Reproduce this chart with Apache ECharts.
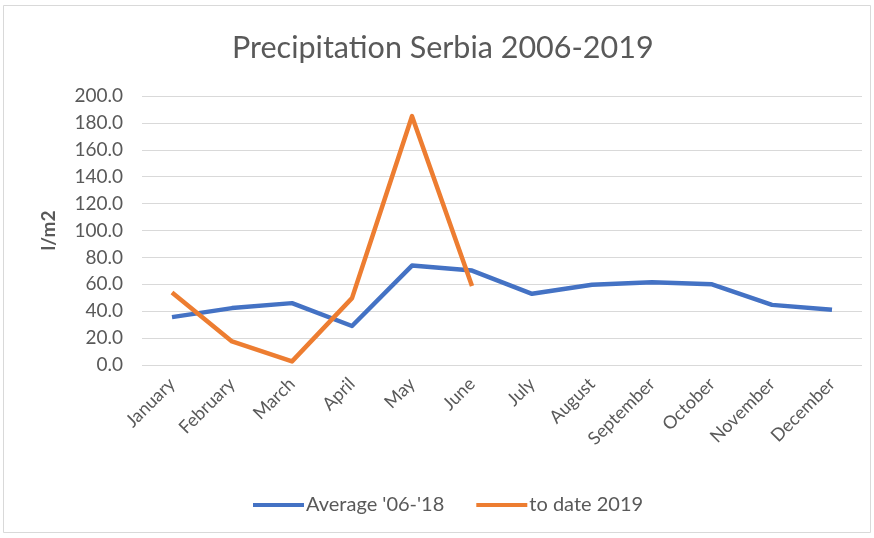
<!DOCTYPE html>
<html>
<head>
<meta charset="utf-8">
<script src="https://cdn.jsdelivr.net/npm/echarts@6/dist/echarts.min.js"></script>
<style>html,body{margin:0;padding:0;background:#fff}#c{width:874px;height:538px}</style>
</head>
<body>
<div id="c"></div>
<script>
const months = ['January','February','March','April','May','June','July','August','September','October','November','December'];
const average0618 = [35.6, 42.3, 46.0, 29.0, 73.9, 70.2, 52.9, 59.6, 61.6, 60.0, 44.7, 41.0];
const toDate2019 = [53.9, 17.5, 2.7, 49.7, 185.0, 58.8];
const seriesNames = ["Average '06-'18", 'to date 2019'];
const yTicks = {min: 0, max: 200, interval: 20};

const FONT = 'Lato, "Open Sans", sans-serif';
const chart = echarts.init(document.getElementById('c'));
chart.setOption({
  backgroundColor: '#ffffff',
  animation: false,
  title: {
    text: 'Precipitation Serbia 2006-2019',
    left: 227, top: 28,
    textStyle: {fontFamily: FONT, fontSize: 30.5, fontWeight: 'normal', color: '#595959'}
  },
  graphic: [{
    type: 'rect', shape: {x: 3.5, y: 5.5, width: 867, height: 527},
    style: {fill: 'none', stroke: '#d9d9d9', lineWidth: 1}, silent: true
  }],
  legend: {
    bottom: 18, left: 248, itemWidth: 51, itemHeight: 4, itemGap: 32,
    icon: 'rect',
    textStyle: {fontFamily: FONT, fontSize: 20, color: '#595959', padding: [0,0,0,-3]},
    data: seriesNames
  },
  grid: {left: 142, right: 12, top: 96, bottom: 173},
  xAxis: {
    type: 'category', data: months, boundaryGap: true,
    axisLine: {show: false}, axisTick: {show: false},
    axisLabel: {rotate: 45, fontFamily: FONT, fontSize: 18, color: '#595959', margin: 16, interval: 0}
  },
  yAxis: {
    type: 'value', min: yTicks.min, max: yTicks.max, interval: yTicks.interval,
    name: 'l/m2', nameLocation: 'middle', nameGap: 84, nameRotate: 90,
    nameTextStyle: {fontFamily: FONT, fontSize: 19, fontWeight: 'bold', color: '#595959'},
    axisLine: {show: false}, axisTick: {show: false},
    axisLabel: {fontFamily: FONT, fontSize: 19, color: '#595959', margin: 19, formatter: v => v.toFixed(1)},
    splitLine: {lineStyle: {color: '#d9d9d9', width: 1}}
  },
  series: [
    {name: seriesNames[0], type: 'line', data: average0618, showSymbol: false, symbol: 'none',
     lineStyle: {color: '#4472c4', width: 4.5, join: 'round'}, itemStyle: {color: '#4472c4'}},
    {name: seriesNames[1], type: 'line', data: toDate2019, showSymbol: false, symbol: 'none',
     lineStyle: {color: '#ed7d31', width: 4.5, join: 'round'}, itemStyle: {color: '#ed7d31'}}
  ]
});
</script>
</body>
</html>
